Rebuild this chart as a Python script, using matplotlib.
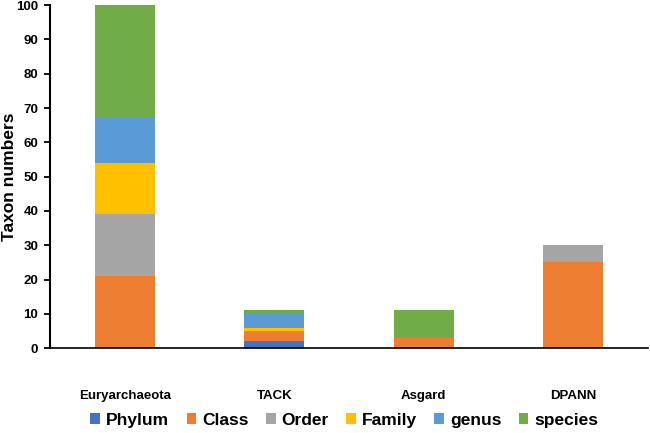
import matplotlib.pyplot as plt
import numpy as np

groups = ["Euryarchaeota", "TACK", "Asgard", "DPANN"]
ranks = ["Phylum", "Class", "Order", "Family", "genus", "species"]
counts = {
    "Phylum":  [0, 2, 0, 0],
    "Class":   [21, 3, 3, 25],
    "Order":   [18, 0, 0, 5],
    "Family":  [15, 1, 0, 0],
    "genus":   [13, 4, 0, 0],
    "species": [33, 1, 8, 0],
}
colors = ["#4472C4", "#ED7D31", "#A5A5A5", "#FFC000", "#5B9BD5", "#70AD47"]

plt.rcParams['font.family'] = ['Liberation Sans', 'DejaVu Sans']

fig = plt.figure(figsize=(6.5, 4.33), dpi=100)
ax = fig.add_axes([0.077, 0.196, 0.92, 0.792])

x = np.arange(len(groups))
bottom = np.zeros(len(groups))
for rank, c in zip(ranks, colors):
    vals = np.array(counts[rank], dtype=float)
    ax.bar(x, vals, 0.4, bottom=bottom, color=c, label=rank)
    bottom += vals

ax.set_xlim(-0.5, 3.5)
ax.set_ylim(0, 100)
ax.set_yticks(range(0, 101, 10))
ax.set_xticks(x)
ax.set_xticklabels(groups, fontweight='bold', fontsize=9.5)
ax.tick_params(axis='x', length=0, pad=30)
ax.tick_params(axis='y', length=4.5, width=1.3, labelsize=9.5, pad=4)
for lab in ax.get_yticklabels():
    lab.set_fontweight('bold')
ax.set_ylabel("Taxon numbers", fontweight='bold', fontsize=12.5)
ax.yaxis.set_label_coords(-0.055, 0.5)

ax.spines['top'].set_visible(False)
ax.spines['right'].set_visible(False)
ax.spines['left'].set_linewidth(1.5)
ax.spines['bottom'].set_linewidth(1.2)

leg = fig.legend(loc='center', bbox_to_anchor=(0.53, 0.03), ncol=6, frameon=False,
                 prop={'weight': 'bold', 'size': 12.5}, handlelength=0.55, handleheight=0.55,
                 handletextpad=0.35, columnspacing=1.0)

fig.savefig("out.png", dpi=100)
